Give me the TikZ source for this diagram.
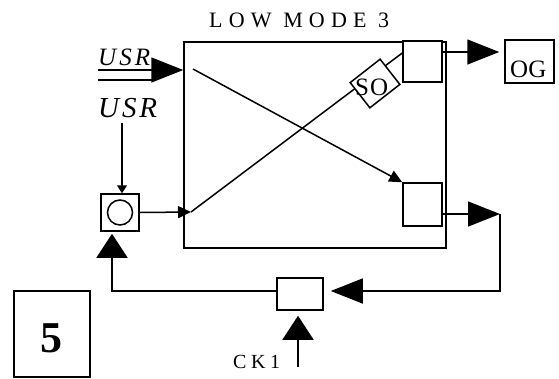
\documentclass[tikz,border=0pt]{standalone}
\usepackage{fontspec}
\setmainfont{Liberation Serif}
\usetikzlibrary{arrows.meta,calc}
\tikzset{
  wire/.style={line width=1.5pt, draw=black},
  bigflow/.style={wire, -{Triangle[length=32pt,width=25pt]}},
  bigflowv/.style={wire, -{Triangle[length=24pt,width=31pt]}},
  smallflow/.style={wire, -{Triangle[length=13pt,width=12pt]}},
  tinyflow/.style={wire, -{Triangle[length=8pt,width=10pt]}},
  blockbox/.style={draw, line width=1.5pt, inner sep=0pt, fill=white},
  lbl/.style={inner sep=0pt, anchor=base west}
}
\newcommand{\spc}[2]{\fontsize{#1}{#1}\selectfont\addfontfeature{LetterSpace=#2}}

\begin{document}
\begin{tikzpicture}[x=1pt, y=-1pt]
  \useasboundingbox (0,0) rectangle (559,378);

  \node[lbl, font=\spc{22}{28}] (title) at (209,27) {LOW MODE 3};

  % blocks
  \node[blockbox, minimum width=262pt, minimum height=206pt] (main) at (315,145) {};
  \node[blockbox, minimum width=39pt, minimum height=41pt] (topbox) at (422.5,61.5) {};
  \node[blockbox, minimum width=39pt, minimum height=43pt] (botbox) at (422.5,204.5) {};
  \node[blockbox, minimum width=49pt, minimum height=43pt] (og) at (529.5,61.5) {};
  \node[lbl, font=\spc{25}{0}] (ogtext) at (510,77) {OG};
  \node[blockbox, minimum width=38pt, minimum height=37pt] (circbox) at (120,212.5) {};
  \node[draw, circle, line width=1.5pt, minimum size=25pt, inner sep=0pt] (circ) at (circbox) {};
  \node[blockbox, minimum width=46pt, minimum height=32pt] (ckbox) at (300,294) {};
  \node[blockbox, minimum width=76pt, minimum height=86pt] (fivebox) at (52,334) {};
  \node[lbl, font=\bfseries\fontsize{44}{44}\selectfont] (five) at (40,352) {5};

  \coordinate (inA) at (98,70);
  \coordinate (inB) at (98,80);
  \coordinate (xa) at (193,69);
  \coordinate (xb) at (191,212);
  \coordinate (ogy) at (0,52);
  \coordinate (rt) at (500,214);
  \coordinate (fbR) at (500,291);
  \coordinate (fbL) at (112,291);
  \coordinate (ckin) at (298,367);
  \coordinate (usrBout) at (122,123);

  % inputs
  \node[lbl, font=\itshape\spc{25}{12}] (usrA) at (98,65) {USR};
  \node[lbl, font=\itshape\spc{29}{10}] (usrB) at (98,117) {USR};
  \draw[bigflow] (inA) -- (inA -| main.west);
  \draw[wire] (inB) -- ($(inB -| main.west)+(-31,0)$);
  \draw[tinyflow] (usrBout) -- (usrBout |- circbox.north);
  \draw[smallflow] (circbox.east) -- (xb);

  % crossing paths
  \draw[smallflow] (xa) -- (botbox.north west);
  \draw[wire] (xb) -- ($(topbox.north west)!0.3!(topbox.south west)$);
  \node[blockbox, minimum width=38pt, minimum height=32pt, rotate=38] (sodia) at (375,83.5) {};
  \node[lbl, font=\spc{25}{4}] (sotext) at (355,95) {SO};

  % outputs and feedback
  \draw[bigflow, shorten >=5pt] (topbox.east |- ogy) -- (og.west |- ogy);
  \draw[bigflow] (botbox.east |- rt) -- (rt);
  \draw[bigflow, shorten >=7pt] (rt) -- (fbR) -- (ckbox.east |- fbR);
  \draw[bigflowv, shorten >=2pt] (ckbox.west |- fbR) -- (fbL) -- (fbL |- circbox.south);
  \draw[bigflowv, shorten >=5pt] (ckin) -- (ckin |- ckbox.south);
  \node[lbl, font=\spc{20}{23}] (cklbl) at (233,368) {CK1};
\end{tikzpicture}
\end{document}
